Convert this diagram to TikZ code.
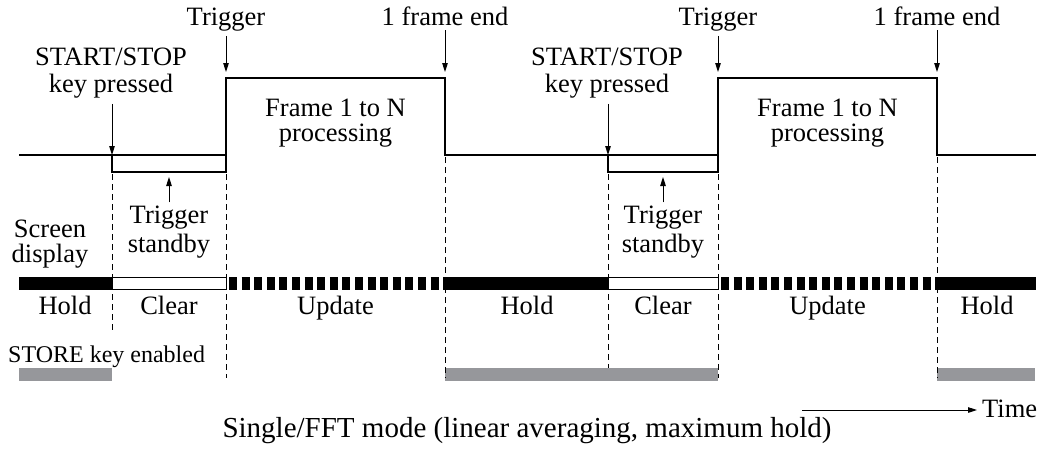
\documentclass[tikz,border=0pt]{standalone}
\usepackage{fontspec}
\setmainfont{Liberation Serif}
\usetikzlibrary{arrows.meta}
\definecolor{storegray}{RGB}{150,151,155}
\tikzset{
  sig/.style={line width=2pt, line join=miter},
  brk/.style={line width=1.2pt},
  guide/.style={line width=0.9pt, dash pattern=on 6pt off 4pt},
  ptr/.style={->, line width=1pt},
  lbl/.style={inner sep=0pt, font=\fontsize{26.5}{27}\selectfont, align=center},
  updbar/.style={line width=13pt, dash pattern=on 8pt off 4.6pt},
}

\begin{document}
\begin{tikzpicture}[x=1pt,y=-1pt,>={Triangle[length=9pt,width=5.5pt]}]
  \useasboundingbox (0,0) rectangle (1043,448);
  % signal line
  \draw[sig] (19,155) -- (226,155) -- (226,78) -- (445,78) -- (445,155)
    -- (718,155) -- (718,78) -- (937,78) -- (937,155) -- (1036,155);
  % screen display and STORE bars
  \fill (19,277) rectangle (112,290);
  \fill (445,277) rectangle (608,290);
  \fill (937,277) rectangle (1036,290);
  \fill[storegray] (19,368) rectangle (112,381);
  \fill[storegray] (445,368) rectangle (718,381);
  \fill[storegray] (937,368) rectangle (1035,381);
  \foreach \a/\b/\c/\s/\n in {112/226/445/333/1,608/718/937/368/2} {
    \coordinate (k\n) at (\a,155);
    \coordinate (t\n) at (\b,78);
    \coordinate (e\n) at (\c,78);
    \coordinate (sb\n) at ({(\a+\b)/2},172);
    \node[lbl, anchor=base] (trg\n) at (\b,25) {Trigger};
    \node[lbl, anchor=base] (fe\n) at (\c,25) {1 frame end};
    \node[lbl, anchor=base] (ss\n) at (\a-1,92) {START/STOP\\key pressed};
    \node[lbl, anchor=base] (fr\n) at ({(\b+\c)/2},141) {Frame 1 to N\\[-2pt]processing};
    \node[lbl, anchor=base] (ts\n) at ({(\a+\b)/2},252) {Trigger\\[2pt]standby};
    \node[lbl, anchor=base] (cl\n) at ({(\a+\b)/2},314) {Clear};
    \node[lbl, anchor=base] (up\n) at ({(\b+\c)/2},314) {Update};
    \draw[ptr, shorten <=5pt, shorten >=6pt] (trg\n) -- (t\n);
    \draw[ptr, shorten <=5pt, shorten >=6pt] (fe\n) -- (e\n);
    \draw[ptr, shorten <=6pt] (ss\n.south -| k\n) -- (k\n);
    \draw[brk] (k\n) -- ++(0,17) -| (t\n |- k\n);
    \draw[ptr, shorten <=3pt, shorten >=5pt] (ts\n) -- (sb\n);
    % guides
    \draw[guide] (\a,174) -- (\a,\s);
    \draw[guide] (\b,174) -- (\b,378);
    \draw[guide] (\c,157) -- (\c,378);
    \draw[line width=1pt] (\a,277.5) rectangle (\b,289.5);
    \draw[updbar] (\b+3,283.5) -- (\c,283.5);
  }
  \node[lbl, anchor=base] (hd1) at (65,314) {Hold};
  \node[lbl, anchor=base] (hd2) at (527,314) {Hold};
  \node[lbl, anchor=base] (hd3) at (987,314) {Hold};
  \node[lbl, anchor=base] (scr) at (50,262) {Screen\\[-2pt]display};
  \node[lbl, font=\fontsize{24}{27}\selectfont, anchor=base west] (store) at (8,362) {STORE key enabled};
  \coordinate (tm0) at (802,410);
  \node[lbl, anchor=base west] (tm) at (982,417) {Time};
  \draw[ptr, shorten >=5pt] (tm0) -- (tm0 -| tm.west);
  \node[inner sep=0pt, font=\fontsize{29}{32}\selectfont, anchor=base] (cap) at (527,437)
    {Single/FFT mode (linear averaging, maximum hold)};
\end{tikzpicture}
\end{document}
